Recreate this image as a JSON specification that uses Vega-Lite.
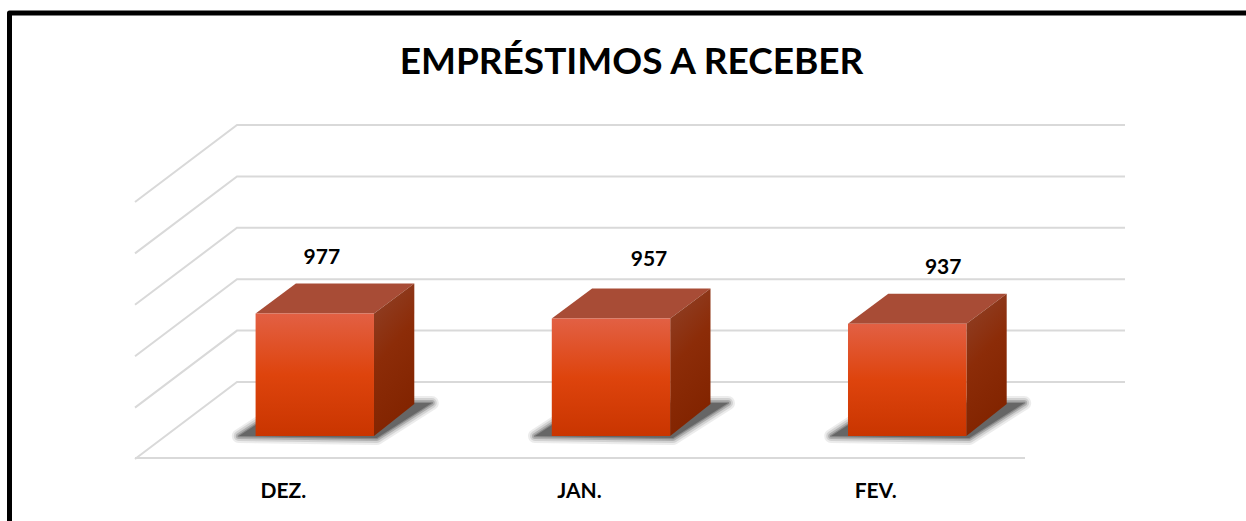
{
"$schema":"https://vega.github.io/schema/vega-lite/v6.json",
"width":1246,"height":521,"padding":0,"autosize":{"type":"none"},
"background":"white","view":{"stroke":null},
"title":{"text":"EMPRÉSTIMOS A RECEBER","font":"Lato","fontWeight":"bold","fontSize":37,"color":"#000000","anchor":"middle","frame":"group","offset":0,"dx":8.5,"dy":82},
"datasets":{
"meses":[{"mes":"DEZ.","valor":977},{"mes":"JAN.","valor":957},{"mes":"FEV.","valor":937}],
"niveis":[{"nivel":500},{"nivel":700},{"nivel":900},{"nivel":1100},{"nivel":1300},{"nivel":1500}]
},
"layer":[
{"data":{"name":"niveis"},
 "mark":{"type":"point","shape":"M-4.88,.23 L-3.86,-.54 L5.02,-.54","size":40000,"filled":false,"fill":null,"stroke":"#d9d9d9","strokeWidth":2,"opacity":1},
 "encoding":{"y":{"field":"nivel","type":"quantitative","scale":{"domain":[169.26,2196.5],"zero":false,"nice":false},"axis":null}}},
{"data":{"values":[{"nivel":500}]},
 "mark":{"type":"point","shape":"M-4.88,.22 L4.02,.22","size":40000,"filled":false,"fill":null,"stroke":"#d9d9d9","strokeWidth":2,"opacity":1},
 "encoding":{"y":{"field":"nivel","type":"quantitative","scale":{"domain":[169.26,2196.5],"zero":false,"nice":false},"axis":null}}},
{"data":{"values":[{"nivel":500}]},
 "mark":{"type":"point","shape":"M-6.135,3 L-6.135,-2.475 L6.3,-2.475","size":40000,"filled":false,"fill":null,"stroke":"#000000","strokeWidth":5,"opacity":1,"strokeJoin":"round"},
 "encoding":{"y":{"datum":1183,"type":"quantitative","scale":{"domain":[169.26,2196.5],"zero":false,"nice":false},"axis":null}}},
{"data":{"name":"meses"},
 "encoding":{
  "x":{"field":"mes","type":"nominal","sort":null,"scale":{"type":"band","domain":["DEZ.","JAN.","FEV."],"paddingInner":0,"paddingOuter":0.6033,"align":0.4664},
   "axis":{"title":null,"domain":false,"ticks":false,"grid":false,"labelAngle":0,"labelFont":"Lato","labelFontWeight":"bold","labelFontSize":21,"labelColor":"#000000","labelPadding":-41,"labelOffset":-31.5}},
  "y":{"field":"valor","type":"quantitative","scale":{"domain":[169.26,2196.5],"zero":false,"nice":false},"axis":null}},
 "layer":[
 {"mark":{"type":"point","shape":"M-.76,0 L-.56,-.13 L.6,-.33 L1.17,-.33 L.62,.02 Z","size":40000,"filled":false,"fill":null,"stroke":"#444444","strokeWidth":14,"strokeJoin":"round","opacity":0.1},
  "encoding":{"y":{"datum":500}}},
 {"mark":{"type":"point","shape":"M-.76,0 L-.56,-.13 L.6,-.33 L1.17,-.33 L.62,.02 Z","size":40000,"filled":false,"fill":null,"stroke":"#444444","strokeWidth":10,"strokeJoin":"round","opacity":0.15},
  "encoding":{"y":{"datum":500}}},
 {"mark":{"type":"point","shape":"M-.76,0 L-.56,-.13 L.6,-.33 L1.17,-.33 L.62,.02 Z","size":40000,"filled":false,"fill":null,"stroke":"#444444","strokeWidth":6,"strokeJoin":"round","opacity":0.25},
  "encoding":{"y":{"datum":500}}},
 {"mark":{"type":"point","shape":"M-.76,0 L-.56,-.13 L.6,-.33 L1.17,-.33 L.62,.02 Z","size":40000,"filled":false,"fill":null,"stroke":"#444444","strokeWidth":2.5,"strokeJoin":"round","opacity":0.35},
  "encoding":{"y":{"datum":500}}},
 {"mark":{"type":"point","shape":"M-.76,0 L-.56,-.13 L.6,-.33 L1.17,-.33 L.62,.02 Z","size":40000,"filled":true,"fill":"#666666","opacity":1},
  "encoding":{"y":{"datum":500}}},
 {"mark":{"type":"point","shape":"M-.592,0 L.592,0 L.995,-.30 L-.189,-.30 Z","size":40000,"filled":true,"fill":"#a84c36","opacity":1}},
 {"mark":{"type":"point","size":40000,"filled":true,"opacity":1,"fill":{"gradient":"linear","x1":0,"y1":0,"x2":0.3,"y2":1,"stops":[{"offset":0,"color":"#8f432c"},{"offset":0.5,"color":"#8c2c08"},{"offset":1,"color":"#822400"}]}},
  "encoding":{"shape":{"field":"mes","type":"nominal","legend":null,"scale":{"domain":["DEZ.","JAN.","FEV."],"range":["M.592,0 L.995,-.30 L.995,.906 L.592,1.226 Z","M.592,0 L.995,-.30 L.995,.854 L.592,1.174 Z","M.592,0 L.995,-.30 L.995,.803 L.592,1.123 Z"]}}}},
 {"mark":{"type":"bar","size":118.4,"fill":{"gradient":"linear","x1":0,"y1":0,"x2":0,"y2":1,"stops":[{"offset":0,"color":"#e26044"},{"offset":0.5,"color":"#de440d"},{"offset":1,"color":"#c93500"}]}},
  "encoding":{"y2":{"datum":500}}},
 {"transform":[{"filter":"datum.mes=='DEZ.'"}],
  "mark":{"type":"text","font":"Lato","fontWeight":"bold","fontSize":21,"color":"#000000","dx":7,"dy":-55.5,"baseline":"middle"},
  "encoding":{"text":{"field":"valor","type":"quantitative"}}},
 {"transform":[{"filter":"datum.mes=='JAN.'"}],
  "mark":{"type":"text","font":"Lato","fontWeight":"bold","fontSize":21,"color":"#000000","dx":38,"dy":-59,"baseline":"middle"},
  "encoding":{"text":{"field":"valor","type":"quantitative"}}},
 {"transform":[{"filter":"datum.mes=='FEV.'"}],
  "mark":{"type":"text","font":"Lato","fontWeight":"bold","fontSize":21,"color":"#000000","dx":36,"dy":-55.5,"baseline":"middle"},
  "encoding":{"text":{"field":"valor","type":"quantitative"}}}
 ]}
]
}
